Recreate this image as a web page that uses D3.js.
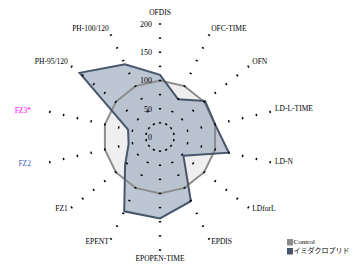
<!DOCTYPE html>
<html>
<head>
<meta charset="utf-8">
<script src="https://cdn.jsdelivr.net/npm/d3@7"></script>
<style>
  body { margin: 0; background: #fff; }
  text { font-family: "Liberation Serif", "DejaVu Serif", serif; }
</style>
</head>
<body>
<div id="graph"></div>
<script>
var axes = ["OFDIS", "OFC-TIME", "OFN", "LD-L-TIME", "LD-N", "LDforL", "EPDIS",
            "EPOPEN-TIME", "EPENT", "FZ1", "FZ2", "FZ3*", "PH-95/120", "PH-100/120"];
var control = [100, 100, 100, 100, 100, 100, 100, 100, 100, 100, 100, 100, 100, 100];
var imidacloprid = [110, 74, 102, 100, 125, 53, 126, 144, 146, 79, 57, 58, 182, 143];
var seriesNames = ["Control", "イミダクロプリド"];
var tickValues = [0, 50, 100, 150, 200];
var dotLevels = [25, 50, 75, 100, 125, 150, 175, 200];

var width = 354, height = 271,
    cx = 160, cy = 137;

var highlight = {"FZ3*": "#ff00ff", "FZ2": "#3d63b8"};

var r = d3.scaleLinear().domain([0, 200]).range([0, 113]);
var angle = d3.scalePoint().domain(axes).range([0, 2 * Math.PI * (axes.length - 1) / axes.length]);

function px(a, v) { return cx + r(v) * Math.sin(angle(a)); }
function py(a, v) { return cy - r(v) * Math.cos(angle(a)); }

var svg = d3.select("#graph").append("svg")
    .attr("width", width)
    .attr("height", height);

var radar = d3.lineRadial()
    .angle(function(d, i) { return angle(axes[i]); })
    .radius(function(d) { return r(d); })
    .curve(d3.curveLinearClosed);

var g = svg.append("g").attr("transform", "translate(" + cx + "," + cy + ")");

// control series
g.append("path")
    .attr("d", radar(control))
    .style("fill", "#efefef")
    .style("stroke", "none");
// imidacloprid series
g.append("path")
    .attr("d", radar(imidacloprid))
    .style("fill", "#a3b1c4")
    .style("fill-opacity", 0.72)
    .style("stroke", "none");
g.append("path")
    .attr("d", radar(control))
    .style("fill", "none")
    .style("stroke", "#8c8c8c")
    .style("stroke-width", 2);
g.append("path")
    .attr("d", radar(imidacloprid))
    .style("fill", "none")
    .style("stroke", "#48566c")
    .style("stroke-width", 2);

// dotted spokes
var dots = [];
axes.forEach(function(a) {
  dotLevels.forEach(function(v) { dots.push({axis: a, v: v}); });
});
svg.selectAll(".dot")
    .data(dots)
  .enter().append("line")
    .attr("class", "dot")
    .attr("x1", function(d) { return px(d.axis, d.v - 1.3); })
    .attr("y1", function(d) { return py(d.axis, d.v - 1.3); })
    .attr("x2", function(d) { return px(d.axis, d.v + 1.3); })
    .attr("y2", function(d) { return py(d.axis, d.v + 1.3); })
    .style("stroke", "#000")
    .style("stroke-width", 2.3);

// radial tick labels
svg.selectAll(".tick")
    .data(tickValues)
  .enter().append("text")
    .attr("class", "tick")
    .attr("x", cx - 8)
    .attr("y", function(d) { return cy - r(d); })
    .attr("dy", "0.35em")
    .style("font-size", "8px")
    .style("text-anchor", "end")
    .text(function(d) { return d; });

// axis labels
svg.selectAll(".label")
    .data(axes)
  .enter().append("text")
    .attr("class", "label")
    .attr("x", function(d) {
      var s = Math.sin(angle(d)), x = cx + 118 * s;
      if (highlight[d]) x -= 14;
      return x;
    })
    .attr("y", function(d) {
      var c = Math.cos(angle(d)), y = cy - 118 * c - 2;
      if (Math.abs(c) > 0.99) y -= 5 * c;
      if (highlight[d]) y += 2;
      return y;
    })
    .attr("dy", "0.35em")
    .style("font-size", "7.5px")
    .style("fill", function(d) { return highlight[d] || "#000"; })
    .style("text-anchor", function(d) {
      var s = Math.sin(angle(d));
      return Math.abs(s) < 0.01 ? "middle" : (s > 0 ? "start" : "end");
    })
    .text(function(d) { return d; });

// legend
var legend = svg.selectAll(".legend")
    .data(seriesNames)
  .enter().append("g")
    .attr("class", "legend")
    .attr("transform", function(d, i) { return "translate(287," + (242 + i * 9) + ")"; });
legend.append("rect")
    .attr("x", 0)
    .attr("y", -3)
    .attr("width", 6)
    .attr("height", 6.5)
    .style("fill", function(d, i) { return i === 0 ? "#8c8c8c" : "#48566c"; });
legend.append("text")
    .attr("x", 6.5)
    .attr("y", 0)
    .attr("dy", "0.3em")
    .style("font-size", "7px")
    .style("font-family", function(d, i) { return i === 0 ? null : "'Noto Sans CJK JP', sans-serif"; })
    .text(function(d) { return d; });
</script>
</body>
</html>
